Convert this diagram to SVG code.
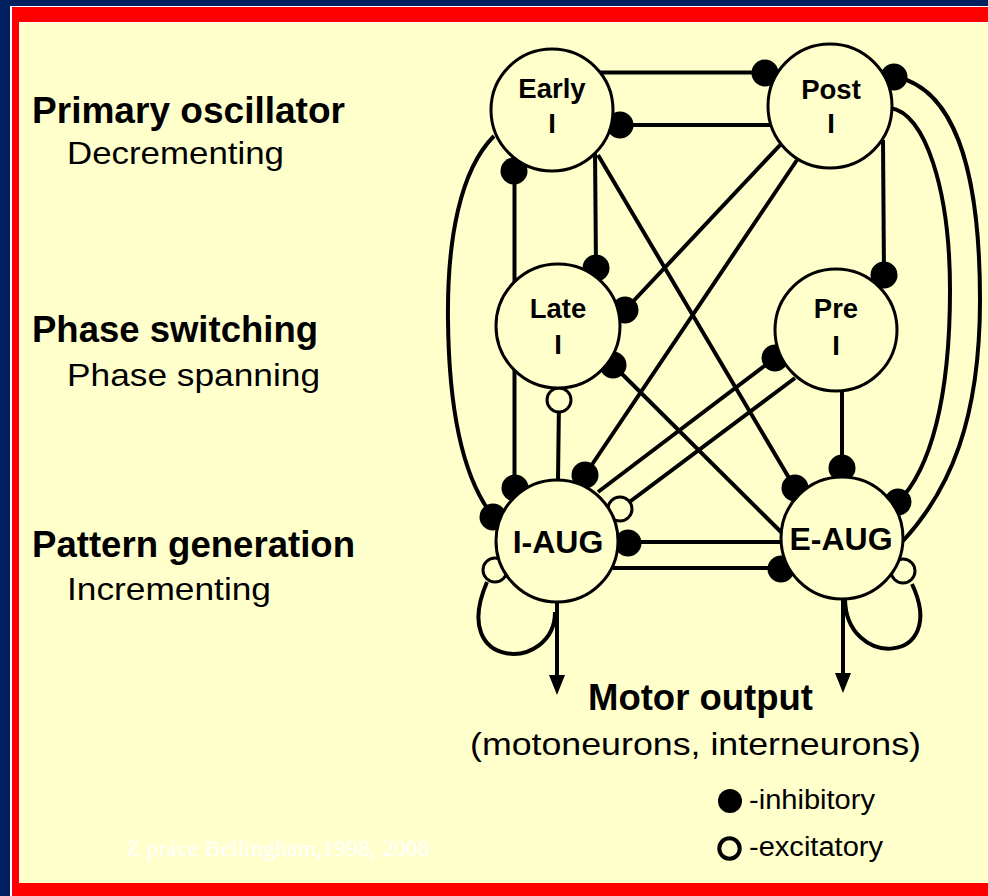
<svg xmlns="http://www.w3.org/2000/svg" width="988" height="896" viewBox="0 0 988 896">
<style>
.ln{stroke:#000;stroke-width:4;fill:none}
.dot{fill:#000}
.exc{fill:#ffffcc;stroke:#000;stroke-width:3}
.node{fill:#ffffcc;stroke:#000;stroke-width:3}
.lbl{font-family:"Liberation Sans",Arial,sans-serif;font-weight:bold;font-size:27.5px;text-anchor:middle;fill:#000}
.aug{font-family:"Liberation Sans",Arial,sans-serif;font-weight:bold;font-size:32px;text-anchor:middle;fill:#000}
.hd{font-family:"Liberation Sans",Arial,sans-serif;font-weight:bold;font-size:36px;fill:#000}
.sub{font-family:"Liberation Sans",Arial,sans-serif;font-size:32px;fill:#000}
.leg{font-family:"Liberation Sans",Arial,sans-serif;font-size:27px;fill:#000}
</style>
<defs>
<marker id="arrow" viewBox="0 0 20 16" refX="15" refY="8" markerWidth="20" markerHeight="16" orient="auto" markerUnits="userSpaceOnUse">
<path d="M0,0 L20,8 L0,16 Z" fill="#000"/>
</marker>
</defs>
<g id="frame">
<rect x="0" y="0" width="988" height="896" fill="#002060"/>
<rect x="10" y="6" width="978" height="890" fill="#ffffff"/>
<rect x="12" y="7" width="976" height="889" fill="#ff0000"/>
<rect x="19" y="22" width="969" height="861" fill="#ffffff"/>
<rect x="20" y="23" width="968" height="860" fill="#ffffcc"/>
</g>
<g id="labels">
<text class="hd" x="32" y="123" textLength="313" lengthAdjust="spacingAndGlyphs">Primary oscillator</text>
<text class="sub" x="67" y="164" textLength="217" lengthAdjust="spacingAndGlyphs">Decrementing</text>
<text class="hd" x="32" y="342" textLength="286" lengthAdjust="spacingAndGlyphs">Phase switching</text>
<text class="sub" x="67" y="386" textLength="253" lengthAdjust="spacingAndGlyphs">Phase spanning</text>
<text class="hd" x="32" y="557" textLength="323" lengthAdjust="spacingAndGlyphs">Pattern generation</text>
<text class="sub" x="67" y="600" textLength="204" lengthAdjust="spacingAndGlyphs">Incrementing</text>
<text class="hd" x="588" y="710" textLength="225" lengthAdjust="spacingAndGlyphs">Motor output</text>
<text class="sub" x="470" y="755" textLength="451" lengthAdjust="spacingAndGlyphs">(motoneurons, interneurons)</text>
<text x="126" y="856" font-family="'Liberation Serif','Times New Roman',serif" font-size="24" fill="#ffffff" textLength="304" lengthAdjust="spacingAndGlyphs">Z práce Bellingham,1998, 2008</text>
</g>
<g id="legend">
<circle class="dot" cx="730" cy="801" r="12"/>
<text class="leg" x="749" y="809" textLength="126" lengthAdjust="spacingAndGlyphs">-inhibitory</text>
<circle cx="729.5" cy="848.5" r="10.2" fill="none" stroke="#000" stroke-width="4"/>
<text class="leg" x="749" y="856" textLength="134" lengthAdjust="spacingAndGlyphs">-excitatory</text>
</g>
<g id="connectors">
<line class="ln" x1="600" y1="72.5" x2="765" y2="72.5"/>
<line class="ln" x1="772" y1="125" x2="620" y2="125"/>
<line class="ln" x1="514.5" y1="171" x2="514.5" y2="488"/>
<line class="ln" x1="595" y1="150" x2="596" y2="268"/>
<line class="ln" x1="598" y1="155" x2="795" y2="488"/>
<line class="ln" x1="782" y1="143" x2="625" y2="310"/>
<line class="ln" x1="797" y1="160" x2="585" y2="475"/>
<line class="ln" x1="782" y1="533" x2="613" y2="365"/>
<line class="ln" x1="598" y1="492" x2="775" y2="358"/>
<line class="ln" x1="795" y1="378" x2="620" y2="509"/>
<line class="ln" x1="842" y1="391" x2="842" y2="468"/>
<line class="ln" x1="883" y1="140" x2="884" y2="275"/>
<line class="ln" x1="558" y1="480" x2="559" y2="400"/>
<line class="ln" x1="782" y1="542" x2="628" y2="542"/>
<line class="ln" x1="613" y1="568" x2="781" y2="568"/>
<path class="ln" d="M494 136 C460 170 447 240 448 320 C449 420 465 480 492 515"/>
<path class="ln" d="M903 541 C950 490 980 420 980 300 C980 160 950 88 896 77"/>
<path class="ln" d="M890 108 C925 112 950 190 950 290 C950 400 930 470 898 502"/>
<path class="ln" d="M845 598 C845 670 950 665 912 584"/>
<path class="ln" d="M555 612 C555 672 448 672 487 582"/>
<line class="ln" x1="557" y1="600" x2="557" y2="690" marker-end="url(#arrow)"/>
<line class="ln" x1="843" y1="597" x2="843" y2="688" marker-end="url(#arrow)"/>
<circle class="dot" cx="765" cy="73" r="13.5"/>
<circle class="dot" cx="620" cy="125" r="13.5"/>
<circle class="dot" cx="514" cy="171" r="13.5"/>
<circle class="dot" cx="515" cy="488" r="13.5"/>
<circle class="dot" cx="493" cy="517" r="13.5"/>
<circle class="dot" cx="596" cy="268" r="13.5"/>
<circle class="dot" cx="625" cy="310" r="13.5"/>
<circle class="dot" cx="613" cy="365" r="13.5"/>
<circle class="dot" cx="585" cy="475" r="13.5"/>
<circle class="dot" cx="628" cy="543" r="13.5"/>
<circle class="dot" cx="775" cy="358" r="13.5"/>
<circle class="dot" cx="884" cy="275" r="13.5"/>
<circle class="dot" cx="894" cy="77" r="13.5"/>
<circle class="dot" cx="842" cy="468" r="13.5"/>
<circle class="dot" cx="795" cy="488" r="13.5"/>
<circle class="dot" cx="898" cy="502" r="13.5"/>
<circle class="dot" cx="781" cy="569" r="13.5"/>
<circle class="exc" cx="559" cy="400" r="12"/>
<circle class="exc" cx="620" cy="509" r="12"/>
<circle class="exc" cx="495" cy="570" r="12"/>
<circle class="exc" cx="903" cy="571" r="12"/>
</g>
<g id="node-early">
<circle class="node" cx="552" cy="110" r="61"/>
<text class="lbl" x="552" y="98">Early</text>
<text class="lbl" x="552" y="133">I</text>
</g>
<g id="node-post">
<circle class="node" cx="830" cy="106" r="62"/>
<text class="lbl" x="831" y="99">Post</text>
<text class="lbl" x="831" y="133">I</text>
</g>
<g id="node-late">
<circle class="node" cx="558" cy="326" r="62"/>
<text class="lbl" x="558" y="318">Late</text>
<text class="lbl" x="558" y="354">I</text>
</g>
<g id="node-pre">
<circle class="node" cx="836" cy="330" r="61"/>
<text class="lbl" x="836" y="318">Pre</text>
<text class="lbl" x="836" y="355">I</text>
</g>
<g id="node-iaug">
<circle class="node" cx="557" cy="541" r="61"/>
<text class="aug" x="558" y="553">I-AUG</text>
</g>
<g id="node-eaug">
<circle class="node" cx="842" cy="538" r="61"/>
<text class="aug" x="841" y="550">E-AUG</text>
</g>
</svg>
